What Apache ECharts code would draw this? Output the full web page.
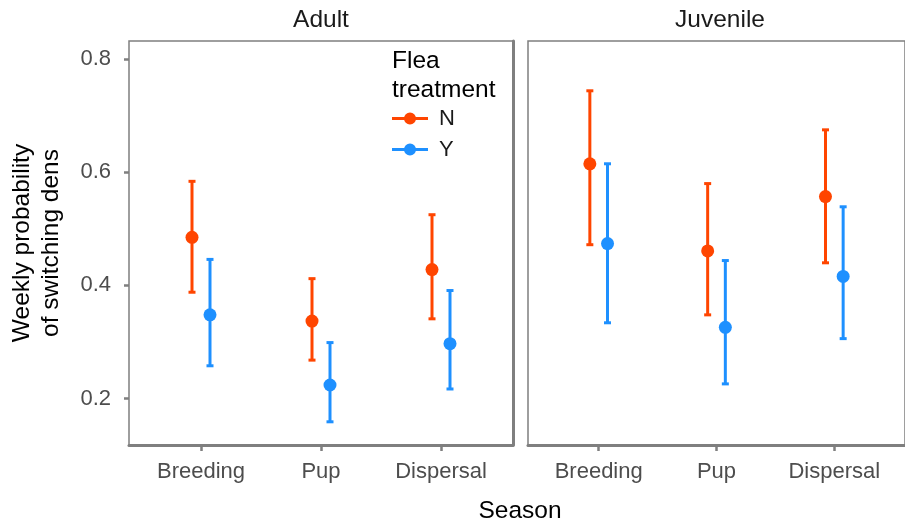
<!DOCTYPE html>
<html>
<head>
<meta charset="utf-8">
<script src="https://cdn.jsdelivr.net/npm/echarts@6/dist/echarts.min.js"></script>
<style>html,body{margin:0;padding:0;background:#fff}#c{width:905px;height:527px}</style>
</head>
<body>
<div id="c"></div>
<script>
var seasons = ['Breeding', 'Pup', 'Dispersal'];
var panels = ['Adult', 'Juvenile'];
var treatments = ['N', 'Y'];
var yTicks = [0.2, 0.4, 0.6, 0.8];

var adultN_est = [0.485, 0.337, 0.428];
var adultN_lo  = [0.388, 0.268, 0.341];
var adultN_hi  = [0.584, 0.412, 0.525];
var adultY_est = [0.348, 0.224, 0.297];
var adultY_lo  = [0.258, 0.159, 0.217];
var adultY_hi  = [0.446, 0.299, 0.391];

var juvN_est = [0.615, 0.461, 0.557];
var juvN_lo  = [0.472, 0.348, 0.440];
var juvN_hi  = [0.744, 0.580, 0.675];
var juvY_est = [0.474, 0.326, 0.416];
var juvY_lo  = [0.334, 0.226, 0.306];
var juvY_hi  = [0.615, 0.444, 0.539];

var colors = {N: '#FF4500', Y: '#1E90FF'};
var FONT = 'Arial, "Liberation Sans", sans-serif';
var GRAY = '#7f7f7f';
var YMIN = 0.118, YMAX = 0.832;
var dodge = {N: -0.075, Y: 0.075};

var groups = [
  {panel: 0, t: 'N', est: adultN_est, lo: adultN_lo, hi: adultN_hi},
  {panel: 0, t: 'Y', est: adultY_est, lo: adultY_lo, hi: adultY_hi},
  {panel: 1, t: 'N', est: juvN_est, lo: juvN_lo, hi: juvN_hi},
  {panel: 1, t: 'Y', est: juvY_est, lo: juvY_lo, hi: juvY_hi}
];

function renderBar(params, api) {
  var x = api.value(0);
  var lo = api.coord([x, api.value(1)]);
  var hi = api.coord([x, api.value(2)]);
  var c = api.visual('color');
  var cap = 3.5;
  var st = {stroke: c, lineWidth: 3};
  return {
    type: 'group',
    children: [
      {type: 'line', shape: {x1: lo[0], y1: lo[1], x2: hi[0], y2: hi[1]}, style: st},
      {type: 'line', shape: {x1: lo[0] - cap, y1: lo[1], x2: lo[0] + cap, y2: lo[1]}, style: {stroke: c, lineWidth: 3}},
      {type: 'line', shape: {x1: hi[0] - cap, y1: hi[1], x2: hi[0] + cap, y2: hi[1]}, style: {stroke: c, lineWidth: 3}}
    ]
  };
}

var series = [];
groups.forEach(function (g) {
  var barData = [], ptData = [];
  seasons.forEach(function (s, i) {
    var x = i + 1 + dodge[g.t];
    barData.push([x, g.lo[i], g.hi[i]]);
    ptData.push([x, g.est[i]]);
  });
  series.push({
    type: 'custom', name: g.t, xAxisIndex: g.panel, yAxisIndex: g.panel,
    itemStyle: {color: colors[g.t]}, renderItem: renderBar, data: barData, z: 2,
    encode: {x: 0, y: [1, 2]}, silent: true
  });
  series.push({
    type: 'scatter', name: g.t, xAxisIndex: g.panel, yAxisIndex: g.panel,
    symbol: 'circle', symbolSize: 13, itemStyle: {color: colors[g.t], opacity: 1},
    data: ptData, z: 3, silent: true
  });
});

var legendIcon = 'path://M0,4.5 L36,4.5 L36,7.5 L0,7.5 Z M24,6 A6,6 0 1,1 12,6 A6,6 0 1,1 24,6 Z';

function xAxisFor(idx) {
  return {
    type: 'value', gridIndex: idx, min: 0.4, max: 3.6,
    splitLine: {show: false},
    axisLine: {show: true, lineStyle: {color: GRAY, width: 3}},
    axisTick: {show: true, customValues: [1, 2, 3], length: 6, lineStyle: {color: GRAY, width: 2.5}},
    axisLabel: {show: true, customValues: [1, 2, 3], margin: 16, fontSize: 22, color: '#4d4d4d', fontFamily: FONT,
      formatter: function (v) { return seasons[Math.round(v) - 1]; }}
  };
}

var option = {
  animation: false,
  backgroundColor: '#ffffff',
  grid: [
    {left: 129, top: 41, width: 384, height: 404, show: true, borderColor: GRAY, borderWidth: 1.5, backgroundColor: '#fff'},
    {left: 528, top: 41, width: 384, height: 404, show: true, borderColor: GRAY, borderWidth: 1.5, backgroundColor: '#fff'}
  ],
  xAxis: [xAxisFor(0), xAxisFor(1)],
  yAxis: [
    {type: 'value', gridIndex: 0, min: YMIN, max: YMAX, splitLine: {show: false},
      axisLine: {show: false},
      axisTick: {show: true, customValues: yTicks, length: 5, lineStyle: {color: GRAY, width: 2.5}},
      axisLabel: {show: true, customValues: yTicks, margin: 18, fontSize: 22, color: '#4d4d4d', fontFamily: FONT,
        formatter: function (v) { return v.toFixed(1); }}},
    {type: 'value', gridIndex: 1, min: YMIN, max: YMAX, splitLine: {show: false},
      axisLine: {show: false}, axisTick: {show: false}, axisLabel: {show: false}},
    {type: 'value', gridIndex: 0, position: 'right', min: YMIN, max: YMAX, splitLine: {show: false},
      axisLine: {show: true, lineStyle: {color: GRAY, width: 3}}, axisTick: {show: false}, axisLabel: {show: false}}
  ],
  legend: {
    orient: 'vertical', left: 392, top: 106, padding: 0, itemGap: 6, itemWidth: 36, itemHeight: 12,
    selectedMode: false,
    textStyle: {fontSize: 22, lineHeight: 25, color: '#1a1a1a', fontFamily: FONT, padding: [0, 0, 0, 6]},
    data: [
      {name: 'N', icon: legendIcon, itemStyle: {color: colors.N}},
      {name: 'Y', icon: legendIcon, itemStyle: {color: colors.Y}}
    ]
  },
  graphic: [
    {type: 'text', left: 392, top: 47, style: {text: 'Flea\ntreatment', fontSize: 24.5, lineHeight: 28.5, fill: '#000', fontFamily: FONT}},
    {type: 'text', x: 321, y: 20, style: {text: panels[0], fontSize: 24.5, fill: '#1a1a1a', fontFamily: FONT, align: 'center', verticalAlign: 'middle'}},
    {type: 'text', x: 720, y: 20, style: {text: panels[1], fontSize: 24.5, fill: '#1a1a1a', fontFamily: FONT, align: 'center', verticalAlign: 'middle'}},
    {type: 'text', x: 520, y: 511, style: {text: 'Season', fontSize: 24.5, fill: '#000', fontFamily: FONT, align: 'center', verticalAlign: 'middle'}},
    {type: 'text', x: 37, y: 243, rotation: Math.PI / 2,
      style: {text: 'Weekly probability\nof switching dens', fontSize: 24.5, lineHeight: 29, fill: '#000', fontFamily: FONT, align: 'center', verticalAlign: 'middle'}}
  ],
  series: series
};

var chart = echarts.init(document.getElementById('c'), null, {renderer: 'canvas'});
chart.setOption(option);
</script>
</body>
</html>
